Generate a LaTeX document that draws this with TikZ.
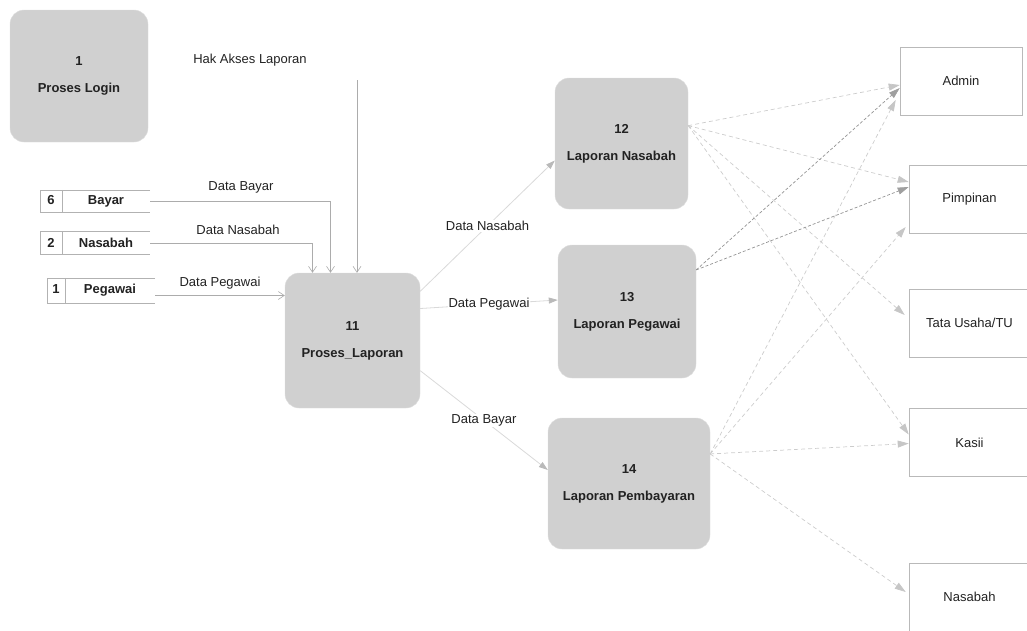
\documentclass[tikz,border=0pt]{standalone}
\usepackage{fontspec}
\setmainfont{Liberation Sans}
\usetikzlibrary{arrows.meta}
\definecolor{procfill}{HTML}{D0D0D0}
\definecolor{txt}{HTML}{222222}
\begin{document}
\begin{tikzpicture}[x=1pt,y=-1pt,
  every node/.style={text=txt},
  proc/.style={draw=gray!25, fill=procfill, rounded corners=14pt, align=center,
    font=\fontsize{13}{13}\selectfont\bfseries, inner sep=0pt},
  entity/.style={draw=gray!55, line width=0.6pt, minimum height=68, inner sep=0pt,
    font=\fontsize{13}{15}\selectfont},
  storebox/.style={inner sep=0pt, font=\fontsize{13}{15}\selectfont\bfseries},
  storeline/.style={draw=gray!60, line width=0.6pt},
  inflow/.style={draw=gray!65, line width=0.6pt, -{Straight Barb[length=6pt,width=8pt]}},
  midflow/.style={draw=gray!30, line width=0.8pt, -{Triangle[length=9pt,width=6pt,color=gray!55,fill=gray!55]}},
  outlight/.style={draw=gray!40, dash pattern=on 4pt off 3pt, line width=0.7pt,
    -{Triangle[length=11pt,width=7pt,color=gray!45,fill=gray!45]}},
  outdark/.style={draw=gray!85, dash pattern=on 3pt off 2pt, line width=0.7pt,
    -{Triangle[length=11pt,width=7pt,color=gray!75,fill=gray!75]}},
  lbl/.style={font=\fontsize{13}{15}\selectfont, inner sep=1pt},
  onlbl/.style={font=\fontsize{13}{15}\selectfont, fill=white, inner sep=1pt}
]
\useasboundingbox (0,0) rectangle (1027,630);

% processes
\node[proc, minimum width=138, minimum height=132] (p1) at (79,76) {1\\[14pt]Proses Login};
\node[proc, minimum width=135, minimum height=135] (p11) at (352.5,340.5) {11\\[14pt]Proses\_Laporan};
\node[proc, minimum width=133, minimum height=131] (p12) at (621.5,143.5) {12\\[14pt]Laporan Nasabah};
\node[proc, minimum width=138, minimum height=133] (p13) at (627,311.5) {13\\[14pt]Laporan Pegawai};
\node[proc, minimum width=162, minimum height=131] (p14) at (629,483.5) {14\\[14pt]Laporan Pembayaran};

% data stores
\node[storebox, minimum width=110, minimum height=22] (s6) at (95,201) {\makebox[22pt]{6}\makebox[88pt]{Bayar}};
\node[storebox, minimum width=110, minimum height=23] (s2) at (95,243) {\makebox[22pt]{2}\makebox[88pt]{Nasabah}};
\node[storebox, minimum width=108, minimum height=25] (s1) at (101,290.5) {\makebox[18pt]{1}\makebox[90pt]{Pegawai}};
\foreach \s/\d in {s6/22,s2/22,s1/18}{
  \draw[storeline] (\s.north east) -- (\s.north west) -- (\s.south west) -- (\s.south east);
  \draw[storeline] ([xshift=\d]\s.north west) -- ([xshift=\d]\s.south west);
}

% external entities
\node[entity, minimum width=122] (admin) at (961,81) {Admin};
\node[entity, minimum width=121] (pim) at (969.5,199) {Pimpinan};
\node[entity, minimum width=121] (tu) at (969.5,323) {Tata Usaha/TU};
\node[entity, minimum width=121] (kasii) at (969.5,442.5) {Kasii};
\node[entity, minimum width=121] (nas) at (969.5,597) {Nasabah};

% labels
\node[lbl] (lhak) at (250,60) {Hak Akses Laporan};
\node[lbl] (lbayar) at (241,187) {Data Bayar};
\node[lbl] (lnas) at (238,230) {Data Nasabah};
\node[lbl] (lpeg) at (220,283) {Data Pegawai};

% inputs to process 11
\coordinate (hak) at (357,80);
\draw[inflow] (hak) -- (hak |- p11.north);
\draw[inflow] (s6.east) -| ([xshift=-22]p11.north);
\draw[inflow] (s2.east) -| ([xshift=-40]p11.north);
\draw[inflow] ([yshift=-5]s1.east) -- ([yshift=-5]s1.east -| p11.west);

% process 11 to reports
\draw[midflow] (p11.36) -- node[onlbl, pos=0.5] {Data Nasabah} ([yshift=-17]p12.west);
\draw[midflow] ([yshift=32]p11.east) -- node[onlbl, pos=0.5] {Data Pegawai} ([yshift=11.5]p13.west);
\draw[midflow] (p11.-24) -- node[onlbl, pos=0.5] {Data Bayar} ([yshift=13.5]p14.west);

% reports to entities
\draw[outlight] (p12.15) -- ([yshift=-4]admin.west);
\draw[outlight] (p12.15) -- ([yshift=17]pim.west);
\draw[outlight] (p12.15) -- ([xshift=-4,yshift=8]tu.west);
\draw[outlight] (p12.15) -- ([yshift=8]kasii.west);
\draw[outdark] (p13.31) -- ([yshift=-7]admin.west);
\draw[outdark] (p13.31) -- ([yshift=12]pim.west);
\draw[outlight] (p14.20) -- ([xshift=-4,yshift=-19]admin.west);
\draw[outlight] (p14.20) -- ([xshift=-3,yshift=-28]pim.west);
\draw[outlight] (p14.20) -- ([yshift=-1]kasii.west);
\draw[outlight] (p14.20) -- ([xshift=-3,yshift=5]nas.west);
\end{tikzpicture}
\end{document}
